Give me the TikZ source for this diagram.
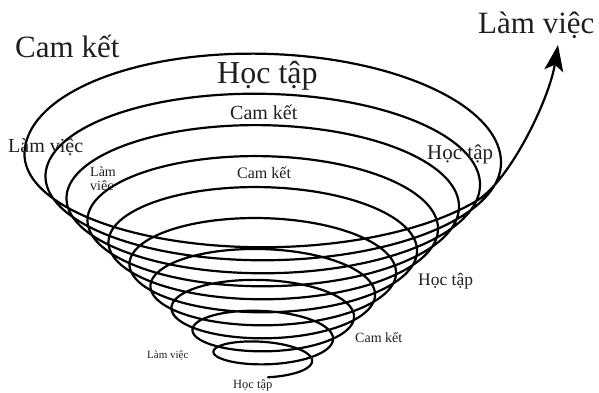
\documentclass[tikz,border=0pt]{standalone}
\usepackage{fontspec}
\setmainfont{Liberation Serif}
\usetikzlibrary{arrows.meta}
\begin{document}
\begin{tikzpicture}[x=1pt,y=-1pt,
  spiral/.style={line width=2.2pt, line join=round, line cap=round, black},
  lbl/.style={inner sep=0pt, anchor=base west, text=black!88}]
\useasboundingbox (0,0) rectangle (599,392);
% conical spiral, from the bottom tail outward, ending in the arrow
\draw[spiral, -{Stealth[length=26pt,width=19pt,inset=6pt]}]
  plot[domain=-0.25:9.91, samples=1600, variable=\s]
    ({268+(44+21*\s)*cos(360*\s)},
     {362-22*\s-(12+9*\s)*sin(360*\s)
      -6*(min(max(\s-8,0),1.5))^2*max(sin(360*\s),0)})
  coordinate (e)
  .. controls (510.4,179.3) and (549,100) .. (558,45) coordinate (tip);
% labels
\node[lbl, font=\fontsize{31}{31}\selectfont] (ck1) at (15,57) {Cam kết};
\node[lbl, font=\fontsize{32}{32}\selectfont] (ht1) at (217,83) {Học tập};
\node[lbl, font=\fontsize{31}{31}\selectfont] (lv1) at (478,33) {Làm việc};
\node[lbl, font=\fontsize{20}{20}\selectfont] (ck2) at (230,119) {Cam kết};
\node[lbl, font=\fontsize{20}{20}\selectfont] (lv2) at (8,152) {Làm việc};
\node[lbl, font=\fontsize{21}{21}\selectfont] (ht2) at (427,159) {Học tập};
\node[inner sep=0pt, anchor=north west, align=left, text=black!88,
      font=\fontsize{14}{13.5}\selectfont] (lv3) at (90,167) {Làm\\việc};
\node[lbl, font=\fontsize{16}{16}\selectfont] (ck3) at (237,178) {Cam kết};
\node[lbl, font=\fontsize{17.5}{17.5}\selectfont] (ht3) at (418,285) {Học tập};
\node[lbl, font=\fontsize{14}{14}\selectfont] (ck4) at (355,342) {Cam kết};
\node[lbl, font=\fontsize{11}{11}\selectfont] (lv4) at (147,358) {Làm việc};
\node[lbl, font=\fontsize{12.5}{12.5}\selectfont] (ht4) at (233,388) {Học tập};
\end{tikzpicture}
\end{document}
